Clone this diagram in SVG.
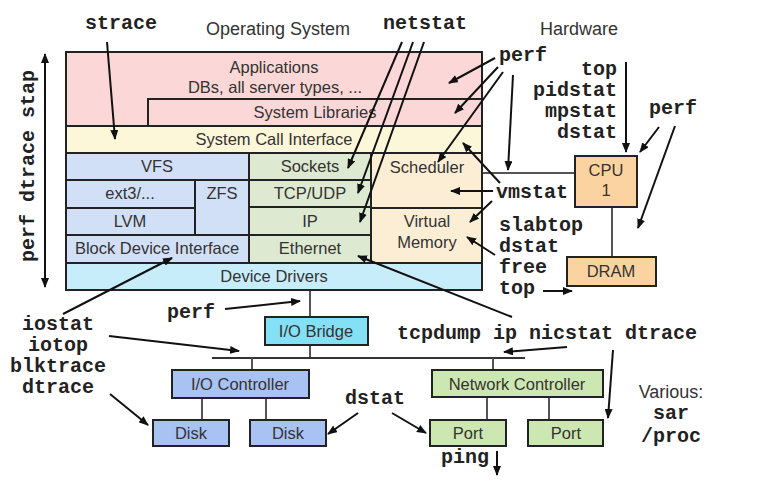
<svg xmlns="http://www.w3.org/2000/svg" width="774" height="492" viewBox="0 0 774 492">
<defs>
<marker id="ah" viewBox="0 0 10 8" refX="9" refY="4" markerWidth="10" markerHeight="8" markerUnits="userSpaceOnUse" orient="auto-start-reverse">
<path d="M0,0 L10,4 L0,8 z" fill="#111"/>
</marker>
<style>
.box{stroke:#222;stroke-width:2}
.lbl{font-family:"Liberation Sans",Arial,sans-serif;font-size:16.5px;fill:#333;text-anchor:middle}
.ttl{font-family:"Liberation Sans",Arial,sans-serif;font-size:18px;fill:#333;text-anchor:middle}
.tool{font-family:"Liberation Mono","Courier New",monospace;font-size:20px;font-weight:bold;fill:#222}
.arr{stroke:#111;stroke-width:2;fill:none;marker-end:url(#ah)}
.wire{stroke:#555;stroke-width:2;fill:none}
.app{fill:#fbd7d7}.sci{fill:#fcf7d8}.fs{fill:#d2e0f7}.net{fill:#dde9d0}.sch{fill:#fceed4}.dd{fill:#c7ecfa}
.hw{fill:#fbd3a1}.br{fill:#84e0f5}.io{fill:#a8c3f3}.nc{fill:#cde7b2}
</style>
</defs>
<rect width="774" height="492" fill="#fff"/>

<text class="ttl" x="278" y="35">Operating System</text>
<text class="ttl" x="579" y="35">Hardware</text>

<g id="connectors">
<line class="wire" x1="482" y1="173" x2="575" y2="173"/>
<line class="wire" x1="612" y1="207" x2="612" y2="257"/>
<line class="wire" x1="310" y1="290" x2="310" y2="317"/>
<line class="wire" x1="310" y1="345" x2="310" y2="358"/>
<line class="wire" x1="212" y1="358" x2="525" y2="358" style="stroke:#333"/>
<line class="wire" x1="252" y1="358" x2="252" y2="370"/>
<line class="wire" x1="493" y1="358" x2="493" y2="370"/>
<line class="wire" x1="202" y1="398" x2="202" y2="420"/>
<line class="wire" x1="266" y1="398" x2="266" y2="420"/>
<line class="wire" x1="487" y1="397" x2="487" y2="420"/>
<line class="wire" x1="549" y1="397" x2="549" y2="420"/>
</g>

<g id="os">
<g id="applications"><rect class="box app" x="66" y="52" width="416" height="74"/>
<text class="lbl" x="274" y="73">Applications</text>
<text class="lbl" x="275" y="93">DBs, all server types, ...</text></g>
<g id="syslibs"><rect class="box app" x="148" y="99" width="334" height="27"/>
<text class="lbl" x="315" y="118">System Libraries</text></g>
<g id="sci"><rect class="box sci" x="66" y="126" width="416" height="27"/>
<text class="lbl" x="274" y="145">System Call Interface</text></g>
<g id="vfs"><rect class="box fs" x="66" y="153" width="183" height="27"/>
<text class="lbl" x="157" y="172">VFS</text></g>
<g id="ext3"><rect class="box fs" x="66" y="180" width="129" height="28"/>
<text class="lbl" x="130" y="199">ext3/...</text></g>
<g id="zfs"><rect class="box fs" x="195" y="180" width="54" height="55"/>
<text class="lbl" x="222" y="199">ZFS</text></g>
<g id="lvm"><rect class="box fs" x="66" y="208" width="129" height="27"/>
<text class="lbl" x="130" y="227">LVM</text></g>
<g id="bdi"><rect class="box fs" x="66" y="235" width="183" height="28"/>
<text class="lbl" x="157" y="254">Block Device Interface</text></g>
<g id="sockets"><rect class="box net" x="249" y="153" width="122" height="27"/>
<text class="lbl" x="310" y="172">Sockets</text></g>
<g id="tcpudp"><rect class="box net" x="249" y="180" width="122" height="27"/>
<text class="lbl" x="310" y="199">TCP/UDP</text></g>
<g id="ip"><rect class="box net" x="249" y="207" width="122" height="28"/>
<text class="lbl" x="310" y="227">IP</text></g>
<g id="ethernet"><rect class="box net" x="249" y="235" width="122" height="28"/>
<text class="lbl" x="310" y="254">Ethernet</text></g>
<g id="scheduler"><rect class="box sch" x="371" y="153" width="111" height="55"/>
<text class="lbl" x="427" y="173">Scheduler</text></g>
<g id="vm"><rect class="box sch" x="371" y="208" width="111" height="55"/>
<text class="lbl" x="427" y="227">Virtual</text>
<text class="lbl" x="427" y="248">Memory</text></g>
<g id="devdrivers"><rect class="box dd" x="66" y="263" width="416" height="27"/>
<text class="lbl" x="274" y="282">Device Drivers</text></g>
</g>

<g id="cpu"><rect class="box hw" x="575" y="156" width="62" height="51"/>
<text class="lbl" x="606" y="176">CPU</text><text class="lbl" x="606" y="196">1</text></g>
<g id="dram"><rect class="box hw" x="567" y="257" width="89" height="29"/>
<text class="lbl" x="611" y="277">DRAM</text></g>
<g id="iobridge"><rect class="box br" x="265" y="317" width="103" height="28"/>
<text class="lbl" x="316" y="337">I/O Bridge</text></g>
<g id="iocontroller"><rect class="box io" x="172" y="370" width="137" height="28"/>
<text class="lbl" x="240" y="390">I/O Controller</text></g>
<g id="disk1"><rect class="box io" x="153" y="420" width="76" height="26"/>
<text class="lbl" x="191" y="439">Disk</text></g>
<g id="disk2"><rect class="box io" x="250" y="420" width="76" height="26"/>
<text class="lbl" x="288" y="439">Disk</text></g>
<g id="netcontroller"><rect class="box nc" x="432" y="370" width="171" height="27"/>
<text class="lbl" x="517" y="390">Network Controller</text></g>
<g id="port1"><rect class="box nc" x="430" y="420" width="76" height="26"/>
<text class="lbl" x="468" y="439">Port</text></g>
<g id="port2"><rect class="box nc" x="528" y="420" width="75" height="26"/>
<text class="lbl" x="566" y="439">Port</text></g>

<g id="tools">
<text class="tool" x="121" y="29" text-anchor="middle">strace</text>
<text class="tool" x="425" y="29" text-anchor="middle">netstat</text>
<text class="tool" x="523" y="61" text-anchor="middle">perf</text>
<text class="tool" x="617" y="75" text-anchor="end">top</text>
<text class="tool" x="617" y="96" text-anchor="end">pidstat</text>
<text class="tool" x="617" y="117" text-anchor="end">mpstat</text>
<text class="tool" x="617" y="138" text-anchor="end">dstat</text>
<text class="tool" x="673" y="114" text-anchor="middle">perf</text>
<text class="tool" x="532" y="198" text-anchor="middle">vmstat</text>
<text class="tool" x="499" y="231">slabtop</text>
<text class="tool" x="499" y="252">dstat</text>
<text class="tool" x="499" y="273">free</text>
<text class="tool" x="499" y="294">top</text>
<text class="tool" transform="translate(34,166) rotate(-90)" text-anchor="middle">perf dtrace stap</text>
<text class="tool" x="191" y="318" text-anchor="middle">perf</text>
<text class="tool" x="58" y="330" text-anchor="middle">iostat</text>
<text class="tool" x="58" y="351" text-anchor="middle">iotop</text>
<text class="tool" x="58" y="372" text-anchor="middle">blktrace</text>
<text class="tool" x="58" y="393" text-anchor="middle">dtrace</text>
<text class="tool" x="375" y="404" text-anchor="middle">dstat</text>
<text class="tool" x="397" y="339">tcpdump ip nicstat dtrace</text>
<text class="tool" x="465" y="463" text-anchor="middle">ping</text>
<text class="ttl" x="671" y="398">Various:</text>
<text class="tool" x="671" y="419" text-anchor="middle">sar</text>
<text class="tool" x="671" y="442" text-anchor="middle">/proc</text>
</g>

<g id="arrows">
<line class="arr" x1="45" y1="287" x2="45" y2="54" style="marker-start:url(#ah)"/>
<line class="arr" x1="107" y1="42" x2="115" y2="139"/>
<line class="arr" x1="402" y1="42" x2="348" y2="168"/>
<line class="arr" x1="413" y1="42" x2="358" y2="193"/>
<line class="arr" x1="424" y1="42" x2="360" y2="222"/>
<line class="arr" x1="495" y1="58" x2="449" y2="83"/>
<line class="arr" x1="498" y1="67" x2="455" y2="113"/>
<line class="arr" x1="503" y1="72" x2="438" y2="162"/>
<line class="arr" x1="513" y1="75" x2="508" y2="170"/>
<line class="arr" x1="500" y1="183" x2="463" y2="143"/>
<line class="arr" x1="493" y1="191" x2="451" y2="191"/>
<line class="arr" x1="492" y1="201" x2="470" y2="222"/>
<line class="arr" x1="495" y1="255" x2="467" y2="237"/>
<line class="arr" x1="543" y1="291" x2="572" y2="291"/>
<line class="arr" x1="626" y1="62" x2="626" y2="152"/>
<line class="arr" x1="659" y1="127" x2="640" y2="152"/>
<line class="arr" x1="675" y1="126" x2="638" y2="228"/>
<line class="arr" x1="512" y1="317" x2="358" y2="256"/>
<line class="arr" x1="63" y1="314" x2="172" y2="258"/>
<line class="arr" x1="225" y1="309" x2="300" y2="301"/>
<line class="arr" x1="109" y1="336" x2="239" y2="351"/>
<line class="arr" x1="110" y1="394" x2="148" y2="425"/>
<line class="arr" x1="358" y1="413" x2="328" y2="434"/>
<line class="arr" x1="392" y1="413" x2="426" y2="433"/>
<line class="arr" x1="567" y1="347" x2="504" y2="352"/>
<line class="arr" x1="613" y1="350" x2="608" y2="418"/>
<line class="arr" x1="497" y1="451" x2="497" y2="475"/>
</g>
</svg>
